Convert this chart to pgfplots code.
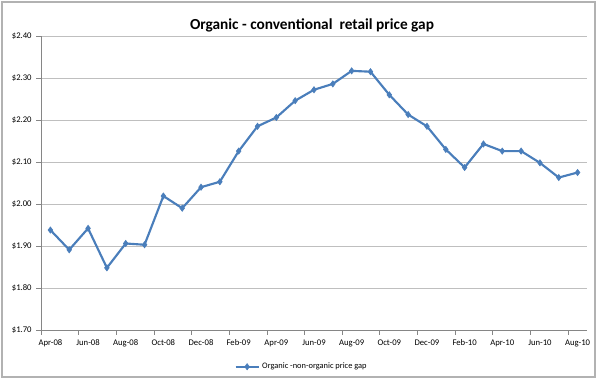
\documentclass[border=0pt]{standalone}
\usepackage{fontspec}
\setmainfont{Carlito}
\usepackage{pgfplots}
\pgfplotsset{compat=1.18}
\definecolor{lineblue}{HTML}{4A7EBB}
\definecolor{gridgray}{HTML}{BFBFBF}
\definecolor{axgray}{HTML}{868686}
\begin{document}
\begin{tikzpicture}
\path (0,0) rectangle (450pt,284.25pt);
\draw[draw=gray!60, line width=0.9pt] (1.5pt,1.5pt) rectangle (446.25pt,282.75pt);
\node[font=\fontsize{11.5}{13}\selectfont\bfseries] at (234pt,265.5pt) {Organic - conventional\ \ retail price gap};
\begin{axis}[at={(30.75pt,36.75pt)}, anchor=south west, scale only axis,
 width=409.5pt, height=220.5pt,
 xmin=-0.5, xmax=28.5, ymin=1.7, ymax=2.4,
 axis x line*=bottom, axis y line*=left,
 axis line style={axgray, line width=0.6pt},
 ytick={1.7,1.8,1.9,2.0,2.1,2.2,2.3,2.4},
 yticklabel={\$\pgfmathprintnumber[fixed,fixed zerofill,precision=2]{\tick}},
 /pgf/number format/assume math mode=true,
 ymajorgrids, major grid style={gridgray, line width=0.6pt},
 xtick={-0.5,1.5,...,27.5},
 xticklabels={Apr-08,Jun-08,Aug-08,Oct-08,Dec-08,Feb-09,Apr-09,Jun-09,Aug-09,Oct-09,Dec-09,Feb-10,Apr-10,Jun-10,Aug-10},
 xticklabel style={xshift=7.06pt},
 tick align=outside, major tick length=3.5pt,
 tick style={axgray, line width=0.6pt},
 ticklabel style={font=\fontsize{6.5}{7.5}\selectfont},
 legend style={at={(0.478,-0.125)}, anchor=center, draw=none, fill=none,
   font=\fontsize{6.3}{7.5}\selectfont},
 legend cell align=left,
]
\addplot[color=lineblue, line width=1.6pt, mark=diamond*, mark size=2.3pt,
  mark options={fill=lineblue, line width=0.5pt}]
coordinates {
(0,1.938) (1,1.891) (2,1.942) (3,1.848) (4,1.906) (5,1.903) (6,2.019) (7,1.990)
(8,2.040) (9,2.053) (10,2.126) (11,2.185) (12,2.206) (13,2.246) (14,2.272)
(15,2.286) (16,2.317) (17,2.315) (18,2.260) (19,2.213) (20,2.185) (21,2.130)
(22,2.087) (23,2.143) (24,2.126) (25,2.126) (26,2.098) (27,2.063) (28,2.075)
};
\addlegendentry{Organic -non-organic price gap}
\end{axis}
\end{tikzpicture}
\end{document}
